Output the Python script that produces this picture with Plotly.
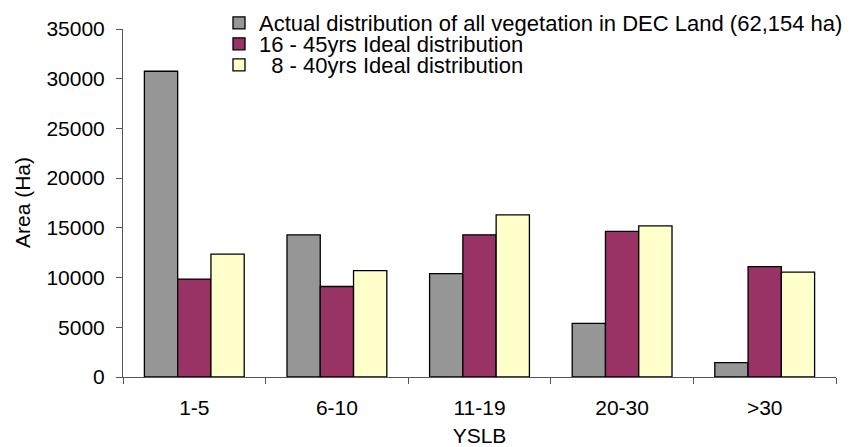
import plotly.graph_objects as go

categories = ["1-5", "6-10", "11-19", "20-30", ">30"]
series_names = [
    "Actual distribution of all vegetation in DEC Land (62,154 ha)",
    "16 - 45yrs Ideal distribution",
    "  8 - 40yrs Ideal distribution",
]
actual = [30750, 14300, 10400, 5400, 1450]
ideal_16_45 = [9850, 9100, 14300, 14650, 11100]
ideal_8_40 = [12350, 10700, 16300, 15200, 10550]
colors = ["#969696", "#993366", "#FFFFCC"]

FONT = "Liberation Sans, Arial, sans-serif"

fig = go.Figure()
legends = ["legend", "legend2", "legend3"]
for name, vals, col, lg in zip(series_names, [actual, ideal_16_45, ideal_8_40], colors, legends):
    fig.add_trace(go.Bar(
        x=categories, y=vals, name=name, legend=lg,
        marker=dict(color=col, line=dict(color="black", width=1.3)),
    ))

leg_common = dict(
    xref="container", yref="container", xanchor="left", yanchor="middle",
    font=dict(family=FONT, size=22, color="black"),
    bgcolor="rgba(0,0,0,0)", borderwidth=0, itemwidth=30,
    tracegroupgap=0, x=219 / 864,
)
row_y = [23, 44, 65]
fig.update_layout(
    legend=dict(**leg_common, y=1 - row_y[0] / 447),
    legend2=dict(**leg_common, y=1 - row_y[1] / 447),
    legend3=dict(**leg_common, y=1 - row_y[2] / 447),
)

fig.update_layout(
    width=864, height=447,
    margin=dict(l=123, r=28, t=29, b=70, pad=0, autoexpand=False),
    paper_bgcolor="white", plot_bgcolor="white",
    barmode="group", bargap=0.3, bargroupgap=0,
    font=dict(family=FONT, size=21, color="black"),
    showlegend=True,
)
fig.update_xaxes(
    showline=True, linecolor="#555555", linewidth=1,
    ticks="outside", tickson="boundaries", ticklen=6, tickcolor="#555555",
    tickfont=dict(family=FONT, size=21, color="black"),
    ticklabelstandoff=12,
    title=dict(text="YSLB", font=dict(family=FONT, size=21, color="black"), standoff=13),
    showgrid=False, zeroline=False,
)
fig.update_yaxes(
    range=[0, 35000], dtick=5000, tickformat="d",
    showline=True, linecolor="#555555", linewidth=1,
    ticks="outside", ticklen=6, tickcolor="#555555",
    tickfont=dict(family=FONT, size=21, color="black"),
    ticklabelstandoff=7,
    showgrid=False, zeroline=False,
)
fig.add_annotation(
    text="Area (Ha)", textangle=-90, showarrow=False,
    xref="paper", yref="paper", x=(22 - 123) / 713, y=0.5,
    xanchor="center", yanchor="middle",
    font=dict(family=FONT, size=21, color="black"),
)

fig.write_html("out.html")
